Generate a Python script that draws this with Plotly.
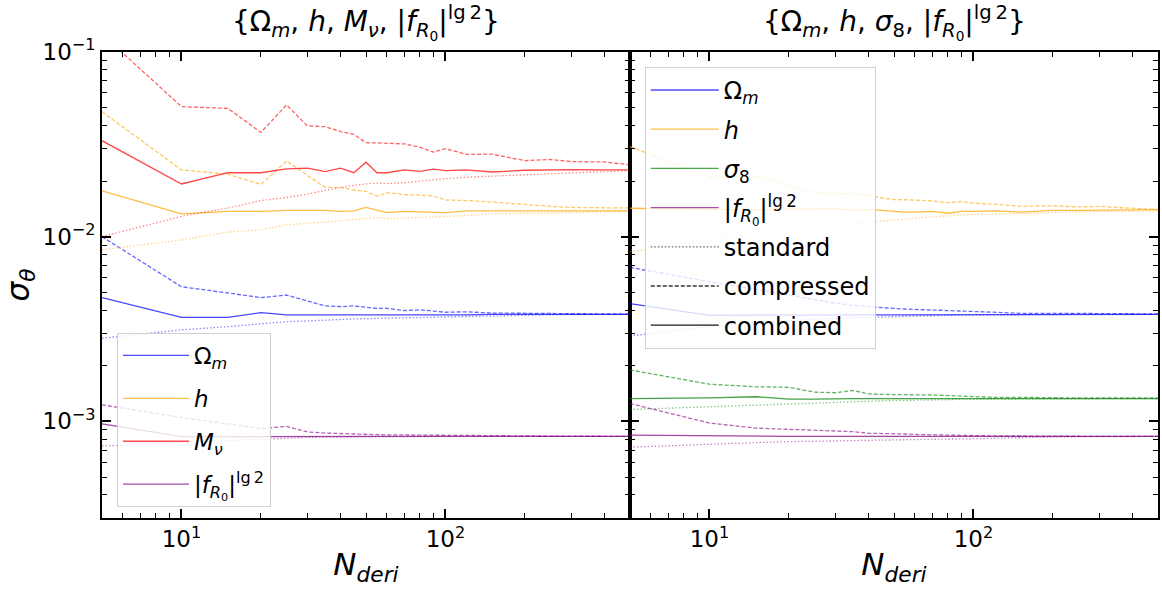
import plotly.graph_objects as go
import math

# ---------------- data ----------------
N_DERI = [5, 10, 15, 20, 25, 30, 35, 40, 45, 50, 55, 60, 70, 80, 90, 100, 120, 150, 200, 250, 300, 400, 500]

# left panel {Om, h, Mnu, fR0}
L_OM_STD = [0.00282, 0.00313, 0.00326, 0.00336, 0.00347, 0.00350, 0.00354, 0.00357, 0.00359, 0.00360, 0.00361, 0.00362, 0.00364, 0.00366, 0.00368, 0.00369, 0.00371, 0.00375, 0.00378, 0.00379, 0.00380, 0.00380, 0.00380]
L_OM_CMP = [0.0100, 0.00536, 0.00496, 0.00468, 0.00483, 0.00451, 0.00422, 0.00418, 0.00422, 0.00415, 0.00409, 0.00409, 0.00398, 0.00402, 0.00395, 0.00390, 0.00392, 0.00386, 0.00385, 0.00383, 0.00383, 0.00382, 0.00382]
L_OM_CMB = [0.00468, 0.00366, 0.00366, 0.00388, 0.00377, 0.00377, 0.00377, 0.00376, 0.00377, 0.00378, 0.00377, 0.00376, 0.00378, 0.00377, 0.00378, 0.00378, 0.00377, 0.00380, 0.00380, 0.00380, 0.00380, 0.00380, 0.00380]

L_H_STD = [0.0085, 0.0096, 0.0106, 0.0109, 0.0116, 0.0118, 0.0120, 0.0122, 0.0124, 0.0126, 0.0127, 0.0125, 0.0126, 0.0127, 0.0128, 0.0129, 0.0130, 0.0133, 0.0134, 0.0135, 0.0135, 0.0136, 0.0137]
L_H_CMP = [0.0475, 0.0230, 0.0218, 0.0192, 0.0257, 0.0216, 0.0185, 0.0185, 0.0179, 0.0176, 0.0166, 0.0173, 0.0169, 0.0168, 0.0166, 0.0158, 0.0157, 0.0154, 0.0149, 0.0146, 0.0144, 0.0143, 0.0143]
L_H_CMB = [0.0177, 0.0133, 0.0137, 0.0137, 0.0139, 0.0139, 0.0139, 0.0137, 0.0138, 0.0144, 0.0139, 0.0135, 0.0137, 0.0136, 0.0136, 0.0135, 0.0138, 0.0138, 0.0137, 0.0138, 0.0138, 0.0138, 0.0138]

L_MNU_STD = [0.0100, 0.0129, 0.0143, 0.0157, 0.0163, 0.0170, 0.0178, 0.0185, 0.0190, 0.0193, 0.0195, 0.0194, 0.0196, 0.0200, 0.0204, 0.0206, 0.0210, 0.0213, 0.0217, 0.0220, 0.0222, 0.0225, 0.0228]
L_MNU_CMP = [0.125, 0.0506, 0.0495, 0.0367, 0.0517, 0.0398, 0.0394, 0.0371, 0.0358, 0.0323, 0.0322, 0.0321, 0.0318, 0.0305, 0.0287, 0.0300, 0.0279, 0.0280, 0.0258, 0.0262, 0.0255, 0.0254, 0.0245]
L_MNU_CMB = [0.0331, 0.0193, 0.0222, 0.0222, 0.0233, 0.0235, 0.0225, 0.0235, 0.0222, 0.0253, 0.0222, 0.0222, 0.0230, 0.0226, 0.0232, 0.0228, 0.0230, 0.0224, 0.0229, 0.0230, 0.0231, 0.0230, 0.0230]

L_FR_STD = [0.000736, 0.000768, 0.000787, 0.000807, 0.000815, 0.000820, 0.000822, 0.000824, 0.000825, 0.000826, 0.000827, 0.000827, 0.000828, 0.000828, 0.000829, 0.000829, 0.000830, 0.000830, 0.000830, 0.000830, 0.000830, 0.000830, 0.000830]
L_FR_CMP = [0.00123, 0.00105, 0.00097, 0.000914, 0.00094, 0.000877, 0.000865, 0.000858, 0.000853, 0.000850, 0.000848, 0.000846, 0.000844, 0.000842, 0.000840, 0.000838, 0.000836, 0.000835, 0.000834, 0.000833, 0.000832, 0.000832, 0.000830]
L_FR_CMB = [0.00097, 0.000828, 0.000828, 0.000830, 0.000830, 0.000830, 0.000830, 0.000830, 0.000830, 0.000830, 0.000830, 0.000830, 0.000830, 0.000830, 0.000830, 0.000830, 0.000830, 0.000830, 0.000830, 0.000830, 0.000830, 0.000830, 0.000830]

# right panel {Om, h, s8, fR0}
R_OM_STD = [0.00290, 0.00326, 0.00342, 0.00352, 0.00358, 0.00362, 0.00364, 0.00366, 0.00369, 0.00372, 0.00373, 0.00374, 0.00375, 0.00376, 0.00377, 0.00377, 0.00378, 0.00379, 0.00379, 0.00380, 0.00380, 0.00380, 0.00380]
R_OM_CMP = [0.00682, 0.00570, 0.00519, 0.00483, 0.00454, 0.00436, 0.00425, 0.00418, 0.00413, 0.00409, 0.00406, 0.00405, 0.00401, 0.00398, 0.00396, 0.00394, 0.00390, 0.00385, 0.00385, 0.00384, 0.00383, 0.00382, 0.00382]
R_OM_CMB = [0.00434, 0.00375, 0.00376, 0.00377, 0.00377, 0.00377, 0.00377, 0.00377, 0.00377, 0.00377, 0.00377, 0.00377, 0.00378, 0.00378, 0.00378, 0.00378, 0.00379, 0.00380, 0.00380, 0.00380, 0.00380, 0.00380, 0.00380]

R_H_STD = [0.0083, 0.0096, 0.0106, 0.0110, 0.0113, 0.0116, 0.0118, 0.0120, 0.0122, 0.0123, 0.0125, 0.0126, 0.0128, 0.0130, 0.0131, 0.0132, 0.0133, 0.0134, 0.0135, 0.0136, 0.0137, 0.0137, 0.0138]
R_H_CMP = [0.0307, 0.0211, 0.0211, 0.0190, 0.0173, 0.0172, 0.0170, 0.0168, 0.0162, 0.0159, 0.0159, 0.0158, 0.0156, 0.0153, 0.0155, 0.0152, 0.0150, 0.0146, 0.0147, 0.0145, 0.0146, 0.0142, 0.0140]
R_H_CMB = [0.01426, 0.0140, 0.0140, 0.0141, 0.0142, 0.0142, 0.0139, 0.0140, 0.0139, 0.0137, 0.0136, 0.0136, 0.0137, 0.0134, 0.0137, 0.0137, 0.0138, 0.0136, 0.0139, 0.0139, 0.0139, 0.0140, 0.0140]

R_S8_STD = [0.00116, 0.00120, 0.00123, 0.00125, 0.00126, 0.00127, 0.00128, 0.00129, 0.00129, 0.00130, 0.00130, 0.00130, 0.00131, 0.00131, 0.00132, 0.00132, 0.00132, 0.00133, 0.00133, 0.00133, 0.00133, 0.00133, 0.00133]
R_S8_CMP = [0.00190, 0.00159, 0.00154, 0.00153, 0.00144, 0.00143, 0.00147, 0.00141, 0.00140, 0.00140, 0.00140, 0.00139, 0.00139, 0.00138, 0.00137, 0.00136, 0.00135, 0.00135, 0.00134, 0.00134, 0.00134, 0.00134, 0.00134]
R_S8_CMB = [0.00133, 0.00134, 0.00136, 0.00132, 0.00132, 0.00133, 0.00133, 0.00133, 0.00133, 0.00133, 0.00133, 0.00133, 0.00133, 0.00133, 0.00133, 0.00133, 0.00133, 0.00133, 0.00133, 0.00133, 0.00133, 0.00133, 0.00133]

R_FR_STD = [0.000725, 0.000755, 0.000768, 0.000777, 0.000782, 0.000786, 0.000790, 0.000792, 0.000795, 0.000797, 0.000799, 0.000800, 0.000802, 0.000804, 0.000805, 0.000806, 0.000812, 0.000818, 0.000823, 0.000826, 0.000828, 0.000830, 0.000830]
R_FR_CMP = [0.00125, 0.00098, 0.00092, 0.000905, 0.000900, 0.000890, 0.000880, 0.000863, 0.000862, 0.000860, 0.000855, 0.000850, 0.000845, 0.000840, 0.000839, 0.000838, 0.000835, 0.000832, 0.000830, 0.000830, 0.000830, 0.000830, 0.000830]
R_FR_CMB = [0.000843, 0.000833, 0.000830, 0.000830, 0.000830, 0.000830, 0.000830, 0.000830, 0.000830, 0.000830, 0.000830, 0.000830, 0.000830, 0.000830, 0.000830, 0.000830, 0.000830, 0.000830, 0.000830, 0.000830, 0.000830, 0.000830, 0.000830]

X_TICKS = [10, 100]
X_TICKTEXT = ["10<sup>1</sup>", "10<sup>2</sup>"]
Y_TICKS = [1e-3, 1e-2, 1e-1]
Y_TICKTEXT = ["10<sup>\u22123</sup>", "10<sup>\u22122</sup>", "10<sup>\u22121</sup>"]

LBL_OM = "\u03a9<sub><i>m</i></sub>"
LBL_H = "<i>h</i>"
LBL_MNU = "<i>M</i><sub><i>\u03bd</i></sub>"
LBL_S8 = "<i>\u03c3</i><sub>8</sub>"
LBL_FR = "|<i>f</i><sub><i>R</i><sub>0</sub></sub>|<sup>lg\u20092</sup>"

# ---------------- styles ----------------
FONT = "DejaVu Sans"
C_BLUE = "#0000ff"
C_ORANGE = "#ffa500"
C_RED = "#ff0000"
C_GREEN = "#008000"
C_PURPLE = "#800080"
DASH_STD = "1.5px,2px"
DASH_CMP = "4px,2px"

fig = go.Figure()


def add_set(std, cmp_, cmb, color, xa, ya):
    for vals, dash, op in ((std, DASH_STD, 0.45), (cmp_, DASH_CMP, 0.6), (cmb, "solid", 0.72)):
        fig.add_trace(go.Scatter(x=N_DERI, y=vals, mode="lines",
                                 line=dict(color=color, width=1.3, dash=dash),
                                 opacity=op, xaxis=xa, yaxis=ya,
                                 showlegend=False, hoverinfo="skip"))


add_set(L_OM_STD, L_OM_CMP, L_OM_CMB, C_BLUE, "x", "y")
add_set(L_H_STD, L_H_CMP, L_H_CMB, C_ORANGE, "x", "y")
add_set(L_MNU_STD, L_MNU_CMP, L_MNU_CMB, C_RED, "x", "y")
add_set(L_FR_STD, L_FR_CMP, L_FR_CMB, C_PURPLE, "x", "y")

add_set(R_OM_STD, R_OM_CMP, R_OM_CMB, C_BLUE, "x2", "y2")
add_set(R_H_STD, R_H_CMP, R_H_CMB, C_ORANGE, "x2", "y2")
add_set(R_S8_STD, R_S8_CMP, R_S8_CMB, C_GREEN, "x2", "y2")
add_set(R_FR_STD, R_FR_CMP, R_FR_CMB, C_PURPLE, "x2", "y2")


def legend_entry(name, color, dash, legend, xa, ya, op=0.7):
    fig.add_trace(go.Scatter(x=[None], y=[None], mode="lines", name=name,
                             line=dict(color=color, width=1.3, dash=dash),
                             opacity=op, xaxis=xa, yaxis=ya, legend=legend,
                             legendgroup=legend + name, showlegend=True))


for nm, c in ((LBL_OM, C_BLUE), (LBL_H, C_ORANGE), (LBL_MNU, C_RED), (LBL_FR, C_PURPLE)):
    legend_entry(nm, c, "solid", "legend", "x", "y")
for nm, c in ((LBL_OM, C_BLUE), (LBL_H, C_ORANGE), (LBL_S8, C_GREEN), (LBL_FR, C_PURPLE)):
    legend_entry(nm, c, "solid", "legend2", "x2", "y2")
legend_entry("standard", "black", DASH_STD, "legend2", "x2", "y2", 0.6)
legend_entry("compressed", "black", DASH_CMP, "legend2", "x2", "y2", 0.8)
legend_entry("combined", "black", "solid", "legend2", "x2", "y2", 0.9)

x_minor = [6, 7, 8, 9, 20, 30, 40, 50, 60, 70, 80, 90, 200, 300, 400]
y_minor = [4e-4, 5e-4, 6e-4, 7e-4, 8e-4, 9e-4, 2e-3, 3e-3, 4e-3, 5e-3, 6e-3, 7e-3, 8e-3, 9e-3,
           2e-2, 3e-2, 4e-2, 5e-2, 6e-2, 7e-2, 8e-2, 9e-2]

axis_common = dict(type="log", showline=True, linecolor="black", linewidth=1.7, mirror="allticks",
                   ticks="inside", ticklen=9, tickwidth=1.5, tickcolor="black",
                   showgrid=False, zeroline=False,
                   tickfont=dict(family=FONT, size=23, color="black"),
                   minor=dict(ticks="inside", ticklen=5, tickwidth=1, tickcolor="black",
                              tickmode="array", showgrid=False))

xr = [math.log10(5), math.log10(500)]
yr = [math.log10(3e-4), -1]

xt = dict(text="<i>N</i><sub><i>deri</i></sub>", font=dict(family=FONT, size=31, color="black"), standoff=2)

fig.update_layout(
    width=1162, height=590,
    margin=dict(l=102, r=2, t=52, b=72),
    paper_bgcolor="white", plot_bgcolor="white",
    font=dict(family=FONT, color="black"),
    xaxis=dict(axis_common, domain=[0, 0.5], range=xr, anchor="y", tickmode="array",
               tickvals=X_TICKS, ticktext=X_TICKTEXT, title=xt,
               minor=dict(axis_common["minor"], tickvals=x_minor)),
    xaxis2=dict(axis_common, domain=[0.5, 1], range=xr, anchor="y2", tickmode="array",
                tickvals=X_TICKS, ticktext=X_TICKTEXT, title=xt,
                minor=dict(axis_common["minor"], tickvals=x_minor)),
    yaxis=dict(axis_common, domain=[0, 1], range=yr, anchor="x", tickmode="array",
               tickvals=Y_TICKS, ticktext=Y_TICKTEXT,
               title=dict(text="<i>\u03c3</i><sub><i>\u03b8</i></sub>", font=dict(family=FONT, size=31, color="black"), standoff=4),
               minor=dict(axis_common["minor"], tickvals=y_minor)),
    yaxis2=dict(axis_common, domain=[0, 1], range=yr, anchor="x2", tickmode="array",
                tickvals=Y_TICKS, showticklabels=False, matches="y",
                minor=dict(axis_common["minor"], tickvals=y_minor)),
    legend=dict(x=0.0142, y=0.0236, xanchor="left", yanchor="bottom",
                bgcolor="rgba(255,255,255,0.8)", bordercolor="#d0d0d0", borderwidth=1,
                font=dict(family=FONT, size=23, color="black"), tracegroupgap=10,
                itemwidth=66),
    legend2=dict(x=0.514, y=0.968, xanchor="left", yanchor="top",
                 bgcolor="rgba(255,255,255,0.8)", bordercolor="#d0d0d0", borderwidth=1,
                 font=dict(family=FONT, size=24, color="black"), tracegroupgap=5,
                 itemwidth=68),
    showlegend=True,
)

title_l = "{" + LBL_OM + ", " + LBL_H + ", " + LBL_MNU + ", " + LBL_FR + "}"
title_r = "{" + LBL_OM + ", " + LBL_H + ", " + LBL_S8 + ", " + LBL_FR + "}"
for tx, xc in ((title_l, 0.25), (title_r, 0.75)):
    fig.add_annotation(text=tx, x=xc, y=1, xref="paper", yref="paper", xanchor="center",
                       yanchor="bottom", yshift=6, showarrow=False,
                       font=dict(family=FONT, size=28, color="black"))

fig.write_html("out.html")
